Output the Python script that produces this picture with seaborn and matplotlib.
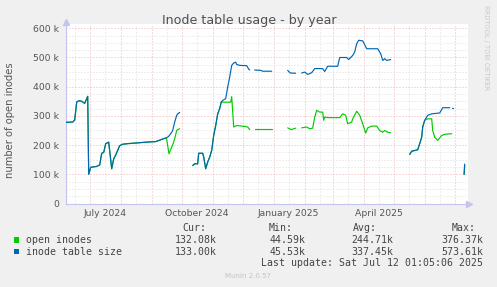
import matplotlib
matplotlib.use('Agg')
import matplotlib.pyplot as plt
import matplotlib.dates as mdates
from matplotlib.patches import Rectangle
from matplotlib.ticker import MultipleLocator, FuncFormatter, NullFormatter
import numpy as np
import pandas as pd
import seaborn as sns

nan = np.nan

# munin "by year" window: 400 days up to the last update
start = pd.Timestamp('2024-06-07 01:05')

# days since window start / values in thousands, nan = gap in the data
open_days = [0, 7, 9, 11, 13, 16, 19, 22, 23, 25, 31, 34, 36, 38, 40, 43, 44, 46, 48, 50,
             52, 54, 57, 62, 70, 80, 90, 94, 98, 100.7, 103.3, 106, 107, 109, 111, 112, 114, nan,
             127, 129, 132, 133, 137, 138, 140, 142, 144, 146, 148, 150, 152, 154, 155.5,
             165, 166, 168, 171, 179, 182, 184, nan,
             189, 206, nan,
             222, 225.5, 230, nan,
             236, 241, 244, 247, 249, 251, 254, 257, 258, 259, 262, 274, 277, 280, 282, 286,
             287, 291, 294, 297, 300, 302, 306, 311, 314, 317, 319, 322, 325, nan,
             344, 346, 352, 354, 356, 357, 359, 362, 366, 367, 369, 372, 376, 379, 386, nan,
             398.4, 399]
open_vals = [278, 279, 286, 347, 352, 350, 343, 367, 100, 124, 127, 132, 172, 175, 205, 210, 180, 119, 153, 166,
             182, 198, 203, 205, 207, 210, 212, 217, 222, 225, 170, 193, 201, 222, 250, 253, 256, nan,
             130, 136, 136, 172, 172, 159, 119, 142, 159, 182, 233, 267, 307, 325, 347,
             347, 366, 262, 267, 264, 262, 253, nan,
             256, 256, nan,
             259, 253, 258, nan,
             259, 262, 256, 258, 296, 319, 313, 313, 285, 296, 294, 294, 307, 302, 273, 279,
             290, 316, 302, 273, 241, 259, 265, 265, 250, 244, 250, 244, 242, nan,
             168, 179, 184, 205, 227, 262, 285, 290, 290, 250, 227, 216, 233, 237, 239, nan,
             99, 132]

size_days = [0, 7, 9, 11, 13, 16, 19, 22, 23, 25, 31, 34, 36, 38, 40, 43, 44, 46, 48, 50,
             52, 54, 57, 62, 70, 80, 90, 94, 98, 100.7, 103, 104, 106, 107, 109, 111, 112, 114, nan,
             127, 129, 132, 133, 137, 138, 140, 142, 144, 146, 148, 150, 152, 154, 155.5,
             157, 160, 162, 164, 166, 168, 170, 171, 174, 181, 183, 184, nan,
             189, 195, 197, 206, nan,
             222, 224.5, 230, nan,
             236, 239, 242, 246, 249, 257, 259, 262, 272, 274, 281, 283, 287, 289, 291, 293,
             297, 301, 312, 315, 317, 319, 321, 325, nan,
             344, 346, 352, 354, 356, 357, 359, 362, 366, 374, 377, 384, nan,
             386.7, 387.5, nan,
             398.4, 399]
size_vals = [278, 279, 286, 347, 352, 350, 343, 367, 100, 124, 127, 132, 172, 175, 205, 210, 180, 119, 153, 166,
             182, 198, 203, 205, 207, 210, 212, 217, 222, 225, 230, 235, 244, 250, 279, 302, 307, 312, nan,
             130, 136, 136, 172, 172, 159, 119, 142, 159, 182, 233, 267, 307, 325, 347,
             353, 359, 399, 433, 473, 481, 484, 476, 473, 472, 460, 457, nan,
             457, 456, 453, 453, nan,
             456, 447, 446, nan,
             447, 450, 442, 448, 462, 462, 452, 470, 470, 500, 500, 493, 507, 519, 547, 559,
             557, 530, 530, 513, 490, 496, 490, 493, nan,
             168, 179, 184, 205, 227, 262, 285, 302, 307, 310, 328, 328, nan,
             328, 328, nan,
             100, 135]

series_names = ['open inodes', 'inode table size']
series_colors = ['#00cc00', '#0066b3']

# legend table
legend_cur = ['132.08k', '133.00k']
legend_min = ['44.59k', '45.53k']
legend_avg = ['244.71k', '337.45k']
legend_max = ['376.37k', '573.61k']

# x labels (centred mid-month like rrdtool)
label_dates = ['2024-07-16', '2024-10-16', '2025-01-16', '2025-04-16']
label_texts = ['July 2024', 'October 2024', 'January 2025', 'April 2025']


def frame(days, vals, name):
    d = pd.DataFrame({'day': days, 'value': vals})
    d['seg'] = d['value'].isna().cumsum()
    d = d.dropna().copy()
    d['date'] = start + pd.to_timedelta(d['day'], unit='D')
    d['value'] = d['value'] * 1000
    d['series'] = name
    return d


df = pd.concat([frame(open_days, open_vals, series_names[0]),
                frame(size_days, size_vals, series_names[1])], ignore_index=True)

sns.set_style('white')
plt.rcParams['font.family'] = ['DejaVu Sans']

W, H = 497, 287
fig = plt.figure(figsize=(W / 100, H / 100), dpi=100, facecolor='#f0f0f0')


def px(x, y):
    return x / W, 1 - y / H


ax = fig.add_axes([65.7 / W, (H - 203.5) / H, (468 - 65.7) / W, (203.5 - 24) / H])
ax.set_facecolor('white')

sns.lineplot(data=df, x='date', y='value', hue='series', units='seg', estimator=None,
             palette=dict(zip(series_names, series_colors)), hue_order=series_names,
             linewidth=0.85, legend=False, ax=ax, zorder=3)

ax.set_xlim(start, start + pd.Timedelta(days=402.3))
ax.set_ylim(0, 614700)

# grid
ax.yaxis.set_major_locator(MultipleLocator(100000))
ax.yaxis.set_minor_locator(MultipleLocator(25000))
ax.yaxis.set_major_formatter(FuncFormatter(lambda v, p: '0' if v == 0 else f'{int(v / 1000)} k'))
ax.xaxis.set_major_locator(mdates.MonthLocator(bymonthday=1))
ax.xaxis.set_major_formatter(NullFormatter())
ax.xaxis.set_minor_locator(mdates.MonthLocator(bymonthday=16))
lab = {pd.Timestamp(d).date(): t for d, t in zip(label_dates, label_texts)}
ax.xaxis.set_minor_formatter(FuncFormatter(lambda v, p: lab.get(mdates.num2date(v).date(), '')))

ax.grid(which='minor', color='#dedede', linestyle=(0, (1, 2)), linewidth=0.72, zorder=1)
ax.grid(which='major', color='#eeb4b4', linestyle=(0, (1, 2)), linewidth=0.72, zorder=2)
ax.set_axisbelow(True)

ax.tick_params(axis='both', which='both', labelsize=6.7, labelcolor='#555555', width=0.7)
ax.tick_params(axis='x', which='major', length=2, color='#e39090', direction='out')
ax.tick_params(axis='x', which='minor', length=2, color='#c8c8c8', direction='out', pad=2.2)
ax.tick_params(axis='y', which='major', length=2, color='#e39090', direction='out', pad=2.6)
ax.tick_params(axis='y', which='minor', length=2, color='#c8c8c8', direction='out')
ax.set_xlabel('')
ax.set_ylabel('')

for s in ['top', 'right']:
    ax.spines[s].set_visible(False)
for s in ['left', 'bottom']:
    ax.spines[s].set_color('#c4c4ee')
    ax.spines[s].set_linewidth(0.8)
ax.plot([0], [1.01], marker='^', ms=4, color='#c4c4ee', transform=ax.transAxes, clip_on=False)
ax.plot([1.003], [0], marker='>', ms=4, color='#c4c4ee', transform=ax.transAxes, clip_on=False)

# titles and side texts
fig.text(*px(249, 24), 'Inode table usage - by year', ha='center', va='baseline',
         fontsize=9.1, color='#505050')
fig.text(*px(10, 120), 'number of open inodes', rotation=90, ha='center', va='center',
         fontsize=7.2, color='#555555')
fig.text(*px(486, 48), 'RRDTOOL / TOBI OETIKER', rotation=270, ha='center', va='center',
         fontsize=4.8, color='#c8c8c8')
fig.text(*px(248, 276), 'Munin 2.0.57', ha='center', va='center', fontsize=5, color='#c4c4c4')

# legend block
mono = dict(family='DejaVu Sans Mono', fontsize=7.1, color='#444444', va='center')
for t, x in zip(['Cur:', 'Min:', 'Avg:', 'Max:'], [182, 269, 353, 452]):
    fig.text(*px(x, 227.7), t, ha='left', **mono)
for i, yy in enumerate([240, 251.7]):
    fig.patches.append(Rectangle(px(14, yy + 2.7), 5.4 / W, 5.4 / H, transform=fig.transFigure,
                                 facecolor=series_colors[i], edgecolor='none'))
    fig.text(*px(26.5, yy), series_names[i], ha='left', **mono)
    for vals, x in zip([legend_cur, legend_min, legend_avg, legend_max], [217, 306, 393, 483]):
        fig.text(*px(x, yy), vals[i], ha='right', **mono)
fig.text(*px(483, 263.3), 'Last update: Sat Jul 12 01:05:06 2025', ha='right', **mono)

fig.savefig('out.png', dpi=100, facecolor=fig.get_facecolor())
